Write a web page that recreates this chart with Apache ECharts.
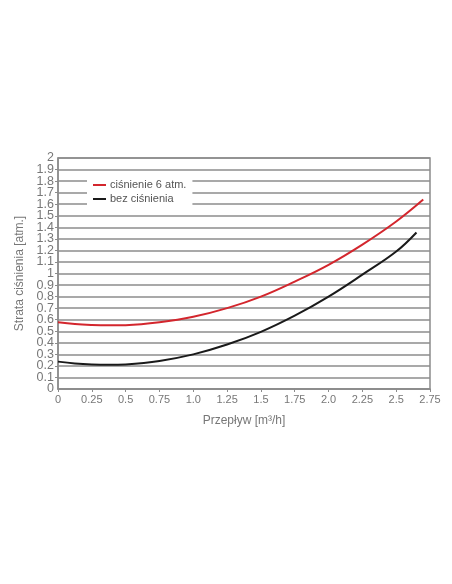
<!DOCTYPE html>
<html>
<head>
<meta charset="utf-8">
<script src="https://cdn.jsdelivr.net/npm/echarts@6/dist/echarts.min.js"></script>
<style>
html,body{margin:0;padding:0;background:#fff;}
#chart{width:452px;height:584px;}
</style>
</head>
<body>
<div id="chart"></div>
<script>
var flowRed = [0, 0.125, 0.25, 0.375, 0.5, 0.75, 1.0, 1.25, 1.5, 1.75, 2.0, 2.25, 2.5, 2.7];
var lossRed = [0.578, 0.562, 0.554, 0.551, 0.553, 0.578, 0.625, 0.70, 0.80, 0.93, 1.075, 1.25, 1.45, 1.64];
var flowBlack = [0, 0.125, 0.25, 0.375, 0.5, 0.75, 1.0, 1.25, 1.5, 1.75, 2.0, 2.25, 2.5, 2.65];
var lossBlack = [0.237, 0.221, 0.212, 0.209, 0.213, 0.243, 0.30, 0.385, 0.495, 0.635, 0.80, 0.99, 1.19, 1.355];
var xTickLabels = ['0', '0.25', '0.5', '0.75', '1.0', '1.25', '1.5', '1.75', '2.0', '2.25', '2.5', '2.75'];
var seriesNames = ['ciśnienie 6 atm.', 'bez ciśnienia'];

function pairs(xs, ys){
	var out = [];
	for(var i=0;i<xs.length;i++){
		out.push([xs[i], ys[i]]);
	}
	return out;
}

function yLabel(v){
	return String(Math.round(v * 10) / 10);
}

var chart = echarts.init(document.getElementById('chart'));
var option = {
	animation: false,
	backgroundColor: '#fff',
	textStyle: { fontFamily: 'Liberation Sans' },
	grid: {
		left: 58,
		right: 22,
		top: 158,
		bottom: 195,
		show: true,
		borderColor: '#8c8c8c',
		borderWidth: 1.5
	},
	legend: {
		data: seriesNames,
		orient: 'vertical',
		left: 87,
		top: 173,
		padding: [5, 6, 5, 6],
		backgroundColor: '#fff',
		itemWidth: 13,
		itemHeight: 2,
		itemGap: 0,
		itemStyle: { borderWidth: 0 },
		icon: 'rect',
		textStyle: { fontSize: 11, color: '#555', lineHeight: 14, padding: [0, 0, 0, -1] }
	},
	xAxis: {
		type: 'value',
		min: 0,
		max: 2.75,
		interval: 0.25,
		name: 'Przepływ [m³/h]',
		nameLocation: 'middle',
		nameGap: 26,
		nameTextStyle: { fontSize: 12, color: '#777' },
		axisLine: { show: true, lineStyle: { color: '#8c8c8c', width: 1.5 } },
		axisTick: { show: true, length: 3, lineStyle: { color: '#8c8c8c' } },
		axisLabel: {
			fontSize: 11, color: '#777', margin: 5,
			showMinLabel: true, showMaxLabel: true,
			formatter: function(v){
				var i = Math.round(v / 0.25);
				return xTickLabels[i];
			}
		},
		splitLine: { show: false }
	},
	yAxis: [{
		type: 'value',
		min: 0,
		max: 2,
		interval: 0.1,
		name: 'Strata ciśnienia [atm.]',
		nameLocation: 'middle',
		nameRotate: 90,
		nameGap: 31,
		nameTextStyle: { fontSize: 12, color: '#777' },
		axisLine: { show: true, lineStyle: { color: '#8c8c8c', width: 1.5 } },
		axisTick: { show: true, length: 3, lineStyle: { color: '#8c8c8c' } },
		axisLabel: {
			fontSize: 12.5, color: '#777', margin: 4,
			showMinLabel: false, showMaxLabel: false,
			formatter: yLabel
		},
		splitLine: { show: true, lineStyle: { color: '#8c8c8c', width: 1.5 } }
	}, {
		// tylko etykiety 0 i 2
		type: 'value',
		position: 'left',
		min: 0,
		max: 2,
		interval: 2,
		axisLine: { show: false },
		axisTick: { show: false },
		axisLabel: {
			fontSize: 12.5, color: '#777', margin: 4,
			showMinLabel: true, showMaxLabel: true,
			formatter: yLabel
		},
		splitLine: { show: false }
	}],
	series: [{
		name: seriesNames[0],
		type: 'line',
		smooth: 0.4,
		showSymbol: false,
		data: pairs(flowRed, lossRed),
		lineStyle: { color: '#d3262d', width: 2 },
		itemStyle: { color: '#d3262d' }
	}, {
		name: seriesNames[1],
		type: 'line',
		smooth: 0.4,
		showSymbol: false,
		data: pairs(flowBlack, lossBlack),
		lineStyle: { color: '#1a1a1a', width: 2 },
		itemStyle: { color: '#1a1a1a' }
	}]
};
chart.setOption(option);
</script>
</body>
</html>
